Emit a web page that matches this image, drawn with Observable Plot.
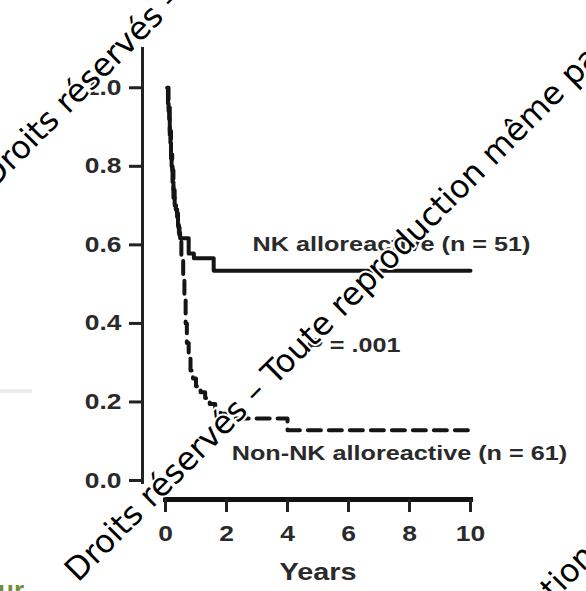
<!DOCTYPE html>
<html>
<head>
<meta charset="utf-8">
<script src="https://cdn.jsdelivr.net/npm/d3@7"></script>
<script src="https://cdn.jsdelivr.net/npm/@observablehq/plot@0.6"></script>
<style>
  html, body { margin: 0; padding: 0; background: #fff; overflow: hidden; }
  #wrap { position: relative; width: 586px; height: 591px; overflow: hidden; }
  #wm { position: absolute; left: 0; top: 0; pointer-events: none; }
  #deco-line { position: absolute; left: 0; top: 389px; width: 32px; height: 4px; background: #ececec; }
  #deco-text { position: absolute; left: -2px; top: 575px; font: bold 26px "Liberation Sans", Arial, sans-serif; color: #6f8d40; }
</style>
</head>
<body>
<div id="wrap">
  <div id="chart"></div>
  <div id="deco-line"></div>
  <div id="deco-text">ur</div>
  <svg id="wm" width="586" height="591">
    <g font-family="DejaVu Sans, sans-serif" font-size="32" fill="#000" stroke="#fff" stroke-width="4" paint-order="stroke" stroke-linejoin="round">
      <text transform="translate(-6,189) rotate(-45)">Droits réservés – Toute reproduction même partielle interdite</text>
      <text transform="translate(78,583) rotate(-45)">Droits réservés – Toute reproduction même partielle interdite</text>
      <text transform="translate(188,967) rotate(-45)">Droits réservés – Toute reproduction même partielle interdite</text>
    </g>
  </svg>
</div>
<script>
// Kaplan–Meier curves (years, survival probability)
const nkYears    = [0.06, 0.08, 0.10, 0.12, 0.14, 0.16, 0.18, 0.20, 0.23, 0.26, 0.30, 0.34, 0.38, 0.41, 0.44, 0.48, 0.76, 0.93, 1.58, 10];
const nkSurvival = [1.00, 0.96, 0.94, 0.92, 0.88, 0.86, 0.82, 0.80, 0.76, 0.72, 0.70, 0.69, 0.68, 0.65, 0.63, 0.617, 0.578, 0.566, 0.534, 0.534];

const nonNkYears    = [0.06, 0.10, 0.14, 0.18, 0.22, 0.26, 0.30, 0.34, 0.38, 0.42, 0.46, 0.52, 0.58, 0.62, 0.66, 0.70, 0.76, 0.82, 0.90, 1.00, 1.15, 1.30, 1.45, 1.63, 1.80, 2.00, 4.00, 10];
const nonNkSurvival = [1.00, 0.95, 0.89, 0.83, 0.79, 0.74, 0.71, 0.69, 0.67, 0.645, 0.62, 0.56, 0.51, 0.46, 0.40, 0.35, 0.31, 0.28, 0.26, 0.24, 0.225, 0.21, 0.195, 0.18, 0.17, 0.158, 0.128, 0.128];

const yTicks = [0, 0.2, 0.4, 0.6, 0.8, 1.0];
const xTicks = [0, 2, 4, 6, 8, 10];
const xLabel = "Years";

const annotationTexts = ["NK alloreactive (n = 51)", "P = .001", "Non-NK alloreactive (n = 61)"];
const annotationYears = [7.41, 6.16, 7.67];
const annotationSurvival = [0.602, 0.344, 0.069];

const nk = nkYears.map((t, i) => ({t, s: nkSurvival[i]}));
const nonNk = nonNkYears.map((t, i) => ({t, s: nonNkSurvival[i]}));
const annotations = annotationTexts.map((text, i) => ({text, t: annotationYears[i], s: annotationSurvival[i]}));

const textColor = "#2a2a2a";
const chart = Plot.plot({
  width: 586,
  height: 591,
  marginLeft: 165,
  marginRight: 116,
  marginTop: 48,
  marginBottom: 111,
  x: {domain: [0, 10]},
  y: {domain: [0, 1.1]},
  style: {fontFamily: "'Liberation Sans', Arial, sans-serif", fontWeight: "bold", color: textColor, background: "transparent", overflow: "visible"},
  marks: [
    Plot.frame({anchor: "left", insetLeft: -23, insetBottom: -2, stroke: "#222", strokeWidth: 3}),
    Plot.frame({anchor: "bottom", insetBottom: -19, stroke: "#111", strokeWidth: 5}),
    Plot.axisY({ticks: yTicks, tickFormat: d3.format(".1f"), dx: -23, tickSize: 13, tickPadding: 8, strokeWidth: 3, stroke: "#222", label: null, fontSize: 22, fill: textColor}),
    Plot.axisX({ticks: xTicks, dy: 19, tickSize: 13, tickPadding: 13, strokeWidth: 3, stroke: "#222", label: null, fontSize: 22, fill: textColor}),
    Plot.line(nonNk, {x: "t", y: "s", curve: "step-after", stroke: "#151515", strokeWidth: 4, strokeDasharray: "13,8"}),
    Plot.line(nk, {x: "t", y: "s", curve: "step-after", stroke: "#151515", strokeWidth: 4}),
    Plot.text(annotations, {x: "t", y: "s", text: "text", fontSize: 21, fill: textColor}),
    Plot.text([xLabel], {frameAnchor: "bottom", dy: 99, fontSize: 24, fill: textColor})
  ]
});
document.getElementById("chart").appendChild(chart);
// horizontal stretch of the chart text, as in the reference image
chart.querySelectorAll("text").forEach(t => {
  const L = t.getComputedTextLength();
  if (L > 0) {
    t.setAttribute("textLength", (L * 1.2).toFixed(1));
    t.setAttribute("lengthAdjust", "spacingAndGlyphs");
  }
});
</script>
</body>
</html>
